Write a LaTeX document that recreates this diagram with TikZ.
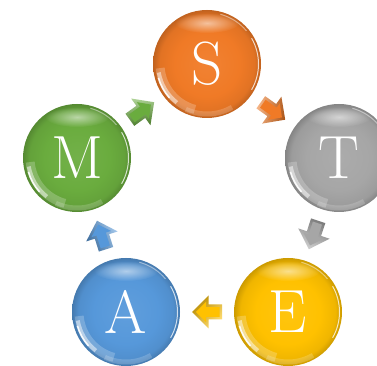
\documentclass[tikz,border=0pt]{standalone}
\usepackage{fontspec}
\setmainfont{Latin Modern Roman}
\usetikzlibrary{fadings,calc}

\definecolor{cS}{RGB}{240,122,38}
\definecolor{cT}{RGB}{166,166,166}
\definecolor{cE}{RGB}{255,193,0}
\definecolor{cA}{RGB}{86,152,218}
\definecolor{cM}{RGB}{106,172,62}
\colorlet{ballc}{cS}

\pgfdeclareradialshading[ballc]{glossball}{\pgfpoint{0bp}{0bp}}{%
  color(0bp)=(ballc!94!white); color(15bp)=(ballc); color(22bp)=(ballc!94!black);
  color(25bp)=(ballc!80!black); color(50bp)=(ballc!80!black)}

\tikzfading[name=softspot, inner color=transparent!0, outer color=transparent!100]

\tikzset{
  letternode/.style={circle, minimum size=108pt, inner sep=0pt, text=white,
    font=\fontsize{61}{61}\selectfont}
}

% name, position, colour, letter
\newcommand\glossyball[4]{%
  \colorlet{ballc}{#3}%
  \shade[shading=glossball] (#2) circle (54pt);
  \begin{scope}
    \clip (#2) circle (54pt);
    \fill[white, opacity=0.55, path fading=softspot] ($(#2)+(0pt,41pt)$) ellipse (32pt and 10pt);
    \draw[white, line width=9pt, opacity=0.22] ($(#2)+(185:47pt)$) arc[start angle=185, end angle=255, radius=47pt];
    \draw[white, line width=4pt, opacity=0.5] ($(#2)+(190:49pt)$) arc[start angle=190, end angle=232, radius=49pt];
    \draw[white, line width=1.6pt, opacity=0.9] ($(#2)+(196:50.5pt)$) arc[start angle=196, end angle=222, radius=50.5pt];
    \draw[white, line width=5pt, opacity=0.18] ($(#2)+(245:50pt)$) arc[start angle=245, end angle=300, radius=50pt];
    \draw[white, line width=1pt, opacity=0.75] ($(#2)+(-30:51.5pt)$) arc[start angle=-30, end angle=30, radius=51.5pt];
    \draw[white, line width=1pt, opacity=0.45] ($(#2)+(40:51.5pt)$) arc[start angle=40, end angle=75, radius=51.5pt];
  \end{scope}
  \node[letternode] (#1) at (#2) {#4};
}

% from, to, colour, angle
\newcommand\blockarrow[4]{%
  \coordinate (#1#2) at ($(#1)!0.5!(#2)$);
  \begin{scope}[shift={(#1#2)}, rotate=#4]
    \shade[top color=#3!55!white, bottom color=#3!72!black, shading angle={45-(#4)}]
      (-15,-7.5) -- (-1.5,-7.5) -- (-1.5,-16.5) -- (15,0) -- (-1.5,16.5) -- (-1.5,7.5) -- (-15,7.5) -- cycle;
    \fill[#3]
      (-12.5,-4.8) -- (1,-4.8) -- (1,-10.2) -- (11,0) -- (1,10.2) -- (1,4.8) -- (-12.5,4.8) -- cycle;
  \end{scope}
}

\begin{document}
\begin{tikzpicture}[x=1pt,y=1pt]
  \useasboundingbox (0,0) rectangle (377,366);
  \fill[white] (0,0) rectangle (377,366);
  \glossyball{S}{207pt,302pt}{cS}{S}
  \glossyball{T}{339pt,208pt}{cT}{T}
  \glossyball{E}{288pt,54pt}{cE}{E}
  \glossyball{A}{126pt,54pt}{cA}{A}
  \glossyball{M}{77pt,208pt}{cM}{M}
  \blockarrow{S}{T}{cS}{-35.5}
  \blockarrow{T}{E}{cT}{-108.3}
  \blockarrow{E}{A}{cE}{180}
  \blockarrow{A}{M}{cA}{107.6}
  \blockarrow{M}{S}{cM}{35.9}
\end{tikzpicture}
\end{document}
